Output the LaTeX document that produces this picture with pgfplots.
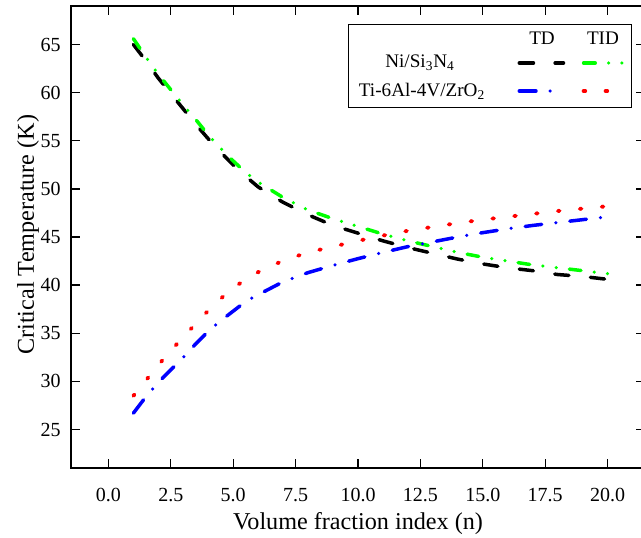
\documentclass[border=0pt]{standalone}
\usepackage{fontspec}
\setmainfont{Liberation Serif}
\usepackage{pgfplots}
\usepackage{pgfplotstable}
\pgfplotsset{compat=1.18}

% TD, Ni/Si3N4
\pgfplotstableread{
n T
1 65.0
1.5 63.3
2 61.5
2.5 59.9
3 58.3
3.5 56.7
4 55.2
4.5 53.8
5 52.5
5.5 51.3
6 50.2
7 48.6
8 47.3
9 46.2
10 45.4
11 44.6
12 43.9
13 43.3
14 42.7
15 42.2
16 41.8
17 41.5
18 41.1
19 40.9
20 40.6
}\tdni

% TID, Ni/Si3N4
\pgfplotstableread{
n T
1 65.6
1.5 63.7
2 61.9
2.5 60.3
3 58.7
3.5 57.2
4 55.6
4.5 54.2
5 52.9
5.5 51.7
6 50.7
7 49.1
8 47.8
9 46.9
10 46.1
11 45.3
12 44.6
13 44.0
14 43.4
15 42.9
16 42.5
17 42.1
18 41.8
19 41.5
20 41.2
}\tidni

% TD, Ti-6Al-4V/ZrO2
\pgfplotstableread{
n T
1 26.7
1.5 28.4
2 29.9
2.5 31.2
3 32.5
3.5 33.9
4 35.2
4.5 36.3
5 37.3
5.5 38.3
6 39.0
7 40.35
8 41.3
9 42.05
10 42.75
11 43.4
12 44.0
13 44.5
14 45.0
15 45.45
16 45.85
17 46.2
18 46.5
19 46.8
20 47.1
}\tdti

% TID, Ti-6Al-4V/ZrO2
\pgfplotstableread{
n T
1 28.5
1.5 30.1
2 31.7
2.5 33.2
3 34.6
3.5 36.0
4 37.35
4.5 38.6
5 39.7
5.5 40.6
6 41.35
7 42.55
8 43.4
9 44.0
10 44.6
11 45.15
12 45.65
13 46.05
14 46.45
15 46.8
16 47.1
17 47.4
18 47.7
19 47.95
20 48.2
}\tidti

\tikzset{
  tdblack/.style={black, line width=2.1pt, line cap=round, dash pattern=on 8.5pt off 13pt},
  tidgreen/.style={green, line width=2.1pt, line cap=round, dash pattern=on 7pt off 8pt on 0pt off 8pt on 0pt off 8pt},
  tdblue/.style={blue, line width=2.1pt, line cap=round, dash pattern=on 10pt off 8.5pt on 0pt off 8.5pt},
  tidred/.style={red, line width=2.3pt, line cap=round, dash pattern=on 1pt off 12.2pt},
}

\begin{document}
\begin{tikzpicture}
\begin{axis}[
    scale only axis,
    width=344.4pt, height=277.2pt,
    xmin=-1.5, xmax=21.5, ymin=21, ymax=69,
    xtick={0,2.5,...,20},
    ytick={25,30,...,65},
    /pgf/number format/assume math mode=true,
    xticklabel style={/pgf/number format/fixed, /pgf/number format/fixed zerofill,
        /pgf/number format/precision=1, anchor=center, yshift=-16pt},
    yticklabel style={anchor=east, inner sep=0pt, xshift=-6pt},
    tick label style={font=\fontsize{12}{14}\selectfont},
    xlabel={Volume fraction index (n)},
    ylabel={Critical Temperature (K)},
    label style={font=\fontsize{14.5}{17}\selectfont},
    xlabel style={at={(axis description cs:0.5,0)}, anchor=center, yshift=-33.5pt},
    ylabel style={at={(axis description cs:0,0.505)}, anchor=center, rotate=0, yshift=25.8pt},
    major tick length=5.4pt,
    tick style={black, line width=0.8pt},
    axis line style={line width=0.8pt},
]
\addplot[tdblack] table[x=n, y=T] {\tdni};
\addplot[tidgreen] table[x=n, y=T] {\tidni};
\addplot[tdblue] table[x=n, y=T] {\tdti};
\addplot[tidred] table[x=n, y=T] {\tidti};

% legend
\draw[line width=0.6pt, fill=white] (rel axis cs:0.4826,0.7792) rectangle (rel axis cs:0.9756,0.9589);
\begin{scope}[every node/.style={font=\fontsize{11.5}{13}\selectfont, inner sep=0pt}]
\node at (rel axis cs:0.8206,0.9307) {TD};
\node at (rel axis cs:0.9268,0.9307) {TID};
\node at (rel axis cs:0.608,0.8766) {Ni/Si\textsubscript{3}N\textsubscript{4}};
\node at (rel axis cs:0.6115,0.816) {Ti-6Al-4V/ZrO\textsubscript{2}};
\end{scope}
\draw[tdblack] (rel axis cs:0.781,0.8766) -- (rel axis cs:0.858,0.8766);
\draw[tidgreen] (rel axis cs:0.893,0.8766) -- (rel axis cs:0.968,0.8766);
\draw[tdblue] (rel axis cs:0.781,0.816) -- (rel axis cs:0.836,0.816);
\draw[tidred] (rel axis cs:0.893,0.816) -- (rel axis cs:0.968,0.816);

\coordinate (bl) at (rel axis cs:0,0);
\coordinate (tr) at (rel axis cs:1,1);
\end{axis}
\pgfresetboundingbox
\path[use as bounding box] ([xshift=-42.6pt,yshift=-42pt]bl) rectangle ([xshift=-2.4pt,yshift=3.6pt]tr);
\end{tikzpicture}
\end{document}
